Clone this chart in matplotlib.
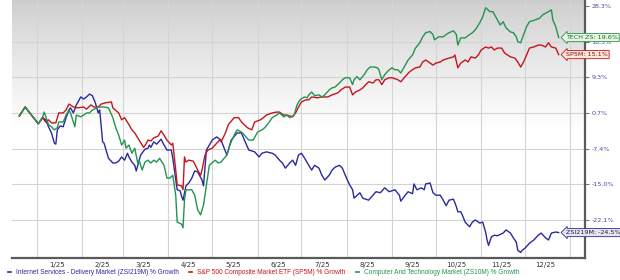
import numpy as np
import matplotlib
matplotlib.use('Agg')
import matplotlib.pyplot as plt
import matplotlib.dates as mdates
from matplotlib.ticker import NullLocator

# days since 2025-01-01 and % growth
zsi_days = [-12, -8, 1, 4, 6, 8, 10, 12, 13, 14,
            16, 18, 20, 22, 23, 25, 27, 29, 30, 32,
            34, 36, 38, 40, 42, 43, 45, 46, 47, 49,
            52, 54, 56, 58, 60, 62, 63, 65, 67, 68,
            70, 71, 74, 76, 77, 78, 80, 82, 85, 87,
            89, 92, 93, 96, 98, 99, 100, 102, 104, 106,
            108, 110, 113, 114, 116, 120, 123, 126, 130, 133,
            137, 140, 142, 145, 149, 152, 154, 157, 161, 163,
            166, 168, 170, 173, 175, 177, 179, 181, 184, 186,
            188, 190, 193, 195, 197, 200, 202, 204, 207, 209,
            211, 214, 216, 217, 221, 223, 227, 232, 235, 238,
            241, 245, 248, 249, 252, 254, 257, 258, 260, 263,
            265, 266, 269, 271, 273, 276, 278, 280, 282, 285,
            287, 288, 290, 291, 293, 296, 298, 300, 303, 305,
            307, 308, 309, 311, 313, 315, 319, 321, 324, 326,
            328, 329, 331, 332, 334, 337, 340, 343, 345, 348,
            350, 352, 355, 357]
zsi_vals = [0.0, 2.1, -1.8, -0.4, -0.9, -2.5, -3.9, -6.2, -6.4, -3.2,
            -2.3, -2.5, -0.4, 1.4, 1.9, 0.7, 2.6, 3.8, 4.5, 4.0,
            4.5, 5.2, 4.8, 3.1, 0.7, 1.4, -5.9, -6.2, -7.3, -9.5,
            -10.5, -10.5, -10.1, -9.2, -9.9, -8.4, -9.2, -10.3, -11.0, -12.2,
            -9.9, -8.8, -7.5, -7.3, -6.6, -7.1, -5.9, -6.4, -5.3, -6.6,
            -7.7, -7.7, -9.5, -16.1, -16.3, -17.4, -18.2, -15.3, -14.7, -13.7,
            -12.2, -12.4, -14.1, -15.3, -7.7, -5.5, -4.8, -5.5, -8.8, -5.5,
            -3.9, -3.9, -5.5, -7.7, -8.1, -9.2, -8.4, -8.1, -8.4, -8.8,
            -9.9, -10.5, -11.6, -10.5, -9.9, -11.0, -8.8, -8.4, -9.9, -11.0,
            -12.0, -11.0, -11.6, -13.1, -14.1, -13.1, -12.0, -11.4, -11.0, -11.6,
            -13.1, -15.1, -16.1, -17.8, -16.7, -17.8, -18.2, -16.5, -16.7, -15.7,
            -16.5, -16.1, -17.2, -18.4, -17.2, -16.5, -16.9, -14.9, -16.1, -15.7,
            -16.1, -14.9, -14.7, -16.7, -17.2, -17.2, -18.2, -19.3, -18.2, -18.0,
            -19.5, -20.5, -20.5, -21.1, -22.5, -23.4, -22.5, -22.1, -22.7, -22.5,
            -24.4, -25.9, -26.9, -25.3, -25.0, -25.1, -24.6, -24.0, -24.6, -25.5,
            -26.3, -27.8, -28.2, -27.8, -27.4, -26.5, -25.9, -25.0, -24.6, -25.5,
            -25.9, -24.6, -24.4, -24.5]

sp_days = [-12, -8, 1, 4, 6, 8, 10, 13, 15, 18,
           20, 22, 25, 28, 32, 34, 37, 39, 42, 44,
           47, 51, 52, 56, 58, 60, 63, 65, 67, 70,
           73, 75, 76, 78, 80, 83, 85, 87, 89, 92,
           93, 95, 96, 99, 100, 101, 102, 104, 107, 108,
           110, 112, 113, 115, 117, 120, 123, 125, 126, 129,
           131, 135, 138, 140, 144, 147, 149, 153, 155, 157,
           161, 164, 166, 169, 171, 175, 177, 179, 181, 184,
           186, 188, 192, 195, 199, 202, 206, 208, 211, 214,
           216, 218, 221, 223, 225, 227, 230, 232, 234, 236,
           238, 241, 243, 247, 249, 252, 255, 257, 259, 262,
           264, 266, 269, 271, 273, 276, 278, 282, 285, 286,
           288, 290, 293, 295, 297, 300, 302, 304, 307, 309,
           311, 313, 315, 318, 320, 322, 324, 327, 329, 331,
           333, 335, 337, 340, 343, 345, 348, 350, 352, 355,
           357]
sp_vals = [0.0, 2.1, -1.8, -0.4, -1.4, -0.9, -1.6, -1.6, 0.7, 0.7,
           1.4, 2.8, 2.1, 1.9, 2.1, 1.6, 2.6, 2.1, 2.1, 2.8,
           3.1, 3.3, 1.9, 0.7, -0.9, -0.4, -2.0, -3.2, -3.9, -5.5,
           -7.1, -6.2, -5.5, -5.7, -5.0, -4.6, -3.4, -4.4, -5.5, -6.6,
           -6.2, -12.0, -15.1, -15.3, -16.1, -9.2, -10.3, -9.9, -10.1, -10.7,
           -12.0, -13.1, -12.0, -8.8, -7.7, -7.3, -6.2, -5.5, -5.9, -3.9,
           -2.0, -0.4, -0.4, -1.4, -2.7, -3.2, -1.4, -0.9, -0.4, 0.2,
           0.7, 0.9, 0.9, 0.2, 0.2, -0.2, 0.7, 2.1, 3.3, 3.8,
           3.8, 4.5, 4.3, 4.5, 4.5, 5.0, 5.5, 6.2, 6.9, 6.9,
           5.0, 5.7, 6.2, 6.7, 7.5, 8.2, 7.9, 8.7, 8.7, 7.5,
           8.7, 9.2, 9.2, 8.7, 8.2, 9.5, 10.7, 11.2, 11.7, 11.9,
           13.2, 13.7, 12.9, 12.4, 12.9, 13.2, 13.7, 14.2, 14.5, 15.0,
           11.7, 12.9, 13.7, 13.2, 14.5, 14.2, 15.0, 16.3, 17.1, 16.8,
           17.1, 16.3, 16.8, 16.8, 15.5, 15.0, 14.5, 14.2, 13.2, 11.9,
           13.2, 15.0, 16.8, 17.1, 17.6, 17.6, 17.1, 18.2, 17.1, 16.8,
           15.1]

tech_days = [-12, -8, 1, 4, 5, 8, 10, 12, 14, 15,
             18, 20, 22, 23, 26, 27, 30, 32, 34, 36,
             38, 41, 43, 46, 49, 52, 54, 56, 58, 60,
             61, 63, 65, 67, 69, 70, 72, 74, 76, 78,
             80, 82, 84, 87, 89, 91, 93, 95, 96, 99,
             100, 101, 102, 106, 108, 110, 112, 114, 116, 118,
             122, 124, 126, 130, 132, 135, 137, 140, 142, 145,
             148, 151, 154, 156, 159, 161, 164, 166, 169, 171,
             173, 176, 178, 180, 183, 185, 186, 188, 190, 193,
             195, 197, 200, 202, 204, 207, 209, 211, 214, 216,
             217, 219, 221, 224, 226, 228, 231, 233, 234, 236,
             238, 241, 243, 245, 247, 249, 252, 254, 257, 259,
             262, 264, 266, 269, 271, 272, 275, 278, 280, 282,
             285, 287, 288, 290, 293, 296, 298, 300, 303, 305,
             307, 310, 312, 314, 317, 319, 321, 324, 326, 328,
             329, 331, 333, 335, 337, 341, 344, 346, 350, 352,
             353, 355, 357]
tech_vals = [0.0, 2.1, -1.8, -0.2, 0.9, -2.0, -2.5, -3.2, -2.7, -1.4,
             -1.4, 0.2, 1.4, 0.7, -2.5, 0.2, -0.2, 0.2, 0.7, 0.7,
             1.4, 1.9, 2.1, 2.1, 1.9, -0.4, -2.7, -4.4, -6.6, -5.5,
             -7.3, -6.6, -8.4, -7.3, -10.5, -9.9, -12.0, -10.3, -9.9, -10.5,
             -9.9, -10.3, -9.5, -11.0, -13.7, -13.7, -13.1, -17.2, -22.5, -22.9,
             -23.6, -18.2, -16.1, -16.1, -17.2, -20.1, -21.1, -19.2, -15.1, -11.0,
             -9.9, -10.5, -10.3, -8.8, -6.6, -4.4, -3.2, -3.7, -4.4, -5.5,
             -5.5, -3.7, -3.2, -2.7, -1.4, -0.4, 0.2, 0.7, -0.2, 0.2,
             -0.4, 0.2, 2.6, 3.8, 4.5, 4.3, 5.0, 5.7, 4.8, 5.0,
             4.5, 5.0, 6.2, 6.7, 6.9, 7.9, 8.7, 9.2, 9.2, 7.5,
             8.7, 9.5, 8.7, 10.0, 11.2, 11.9, 11.9, 11.7, 11.2, 8.7,
             10.0, 11.2, 11.7, 11.2, 11.2, 10.4, 12.4, 13.7, 15.0, 16.8,
             18.2, 19.8, 20.9, 21.2, 20.4, 19.0, 19.8, 19.8, 20.4, 20.9,
             21.4, 20.4, 17.6, 19.5, 19.5, 20.4, 20.9, 21.7, 23.6, 25.2,
             27.8, 26.7, 26.7, 25.2, 23.0, 23.9, 22.2, 21.1, 20.9, 19.8,
             18.5, 18.2, 20.4, 22.5, 23.9, 24.4, 24.9, 25.8, 26.7, 27.2,
             24.4, 22.5, 19.6]

series_names = ['Internet Services - Delivery Market (ZSI219M) % Growth',
                'S&P 500 Composite Market ETF (SP5M) % Growth',
                'Computer And Technology Market (ZS10M) % Growth']
end_tags = ['ZSI219M', 'SP5M', 'TECH ZS']

ytick_vals = [-22.1, -15.0, -7.4, 0.7, 9.3, 18.5, 28.3]
xtick_labels = ['1/25', '2/25', '3/25', '4/25', '5/25', '6/25',
                '7/25', '8/25', '9/25', '10/25', '11/25', '12/25']

base = np.datetime64('2025-01-01')


def to_dates(days):
    return base + np.array(days).astype('timedelta64[D]')


# the y axis is spaced like log(value + 130)
def fwd(v):
    return np.log(np.asarray(v, dtype=float) + 130.0)


def inv(v):
    return np.exp(v) - 130.0


fig = plt.figure(figsize=(6.2, 2.8), dpi=100)
rect = [12 / 620, 22 / 280, 573 / 620, 258 / 280]

# grey-to-white background, top of the plot only
bg = fig.add_axes(rect, zorder=0)
t = np.linspace(0, 1, 256)
shade = 0.80 + 0.20 * np.clip(t / 0.5, 0, 1) ** 0.8
img = np.repeat(shade[:, None, None], 3, axis=2)
bg.imshow(img, aspect='auto', extent=[0, 1, 0, 1])
bg.set_axis_off()

ax = fig.add_axes(rect, zorder=1)
ax.set_facecolor('none')
ax.set_yscale('function', functions=(fwd, inv))

colors = ['#2a2a9e', '#c4161c', '#23944f']
series = [(zsi_days, zsi_vals), (sp_days, sp_vals), (tech_days, tech_vals)]
lines = []
for (d, v), c, name in zip(series, colors, series_names):
    ln, = ax.plot(to_dates(d), v, color=c, lw=1.0, label=name, zorder=3)
    lines.append(ln)

ax.set_xlim(np.datetime64('2024-12-15'), np.datetime64('2026-01-11'))
ax.set_ylim(-29.2, 30.0)

# x ticks: labels mid-month, grid at month starts
mid_months = [np.datetime64('2025-%02d-15' % m) for m in range(1, 13)]
ax.set_xticks(mdates.date2num(mid_months))
ax.set_xticklabels(xtick_labels)
ax.xaxis.set_minor_locator(mdates.MonthLocator())
ax.tick_params(axis='x', which='both', length=0, labelsize=5,
               labelcolor='#333333', pad=3)
ax.grid(axis='x', which='minor', color='#d4d4d4', lw=0.8)

ax.yaxis.tick_right()
ax.set_yticks(ytick_vals)
ax.set_yticklabels(['%.1f%%' % v for v in ytick_vals])
ax.yaxis.set_minor_locator(NullLocator())
ax.tick_params(axis='y', length=3, width=0.8, color='#777777', labelsize=4.6,
               labelcolor='#4b4b9b', pad=1.5)
ax.grid(axis='y', which='major', color='#d4d4d4', lw=0.8)

for s in ['top', 'left']:
    ax.spines[s].set_visible(False)
for s in ['bottom', 'right']:
    ax.spines[s].set_color('#5a5a5a')
    ax.spines[s].set_linewidth(1.6)

# end-of-line value tags
tag_styles = [('#e4e4ee', '#2a2a9e', '#222244'),
              ('#fbe6dc', '#c4161c', '#8a1010'),
              ('#eaf6e2', '#23944f', '#1c6a38')]
for (d, v), tag, (fc, ec, tc) in zip(series, end_tags, tag_styles):
    ax.annotate('%s: %.1f%%' % (tag, v[-1]), xy=(to_dates(d)[-1], v[-1]),
                xytext=(5, 0), textcoords='offset points', ha='left', va='center',
                fontsize=4.6, color=tc, annotation_clip=False, zorder=6,
                bbox=dict(boxstyle='larrow,pad=0.25', fc=fc, ec=ec, lw=0.6))

leg = ax.legend(handles=lines, loc='upper left', bbox_to_anchor=(8 / 620, 1 - 269 / 280),
                bbox_transform=fig.transFigure, ncol=3, frameon=False,
                prop={'family': 'Liberation Sans', 'size': 4.7},
                handlelength=0.5, handletextpad=0.7, columnspacing=1.6,
                labelcolor='linecolor', borderpad=0, borderaxespad=0)
for h in leg.get_lines():
    h.set_linewidth(1.2)

fig.savefig('out.png', dpi=100)
